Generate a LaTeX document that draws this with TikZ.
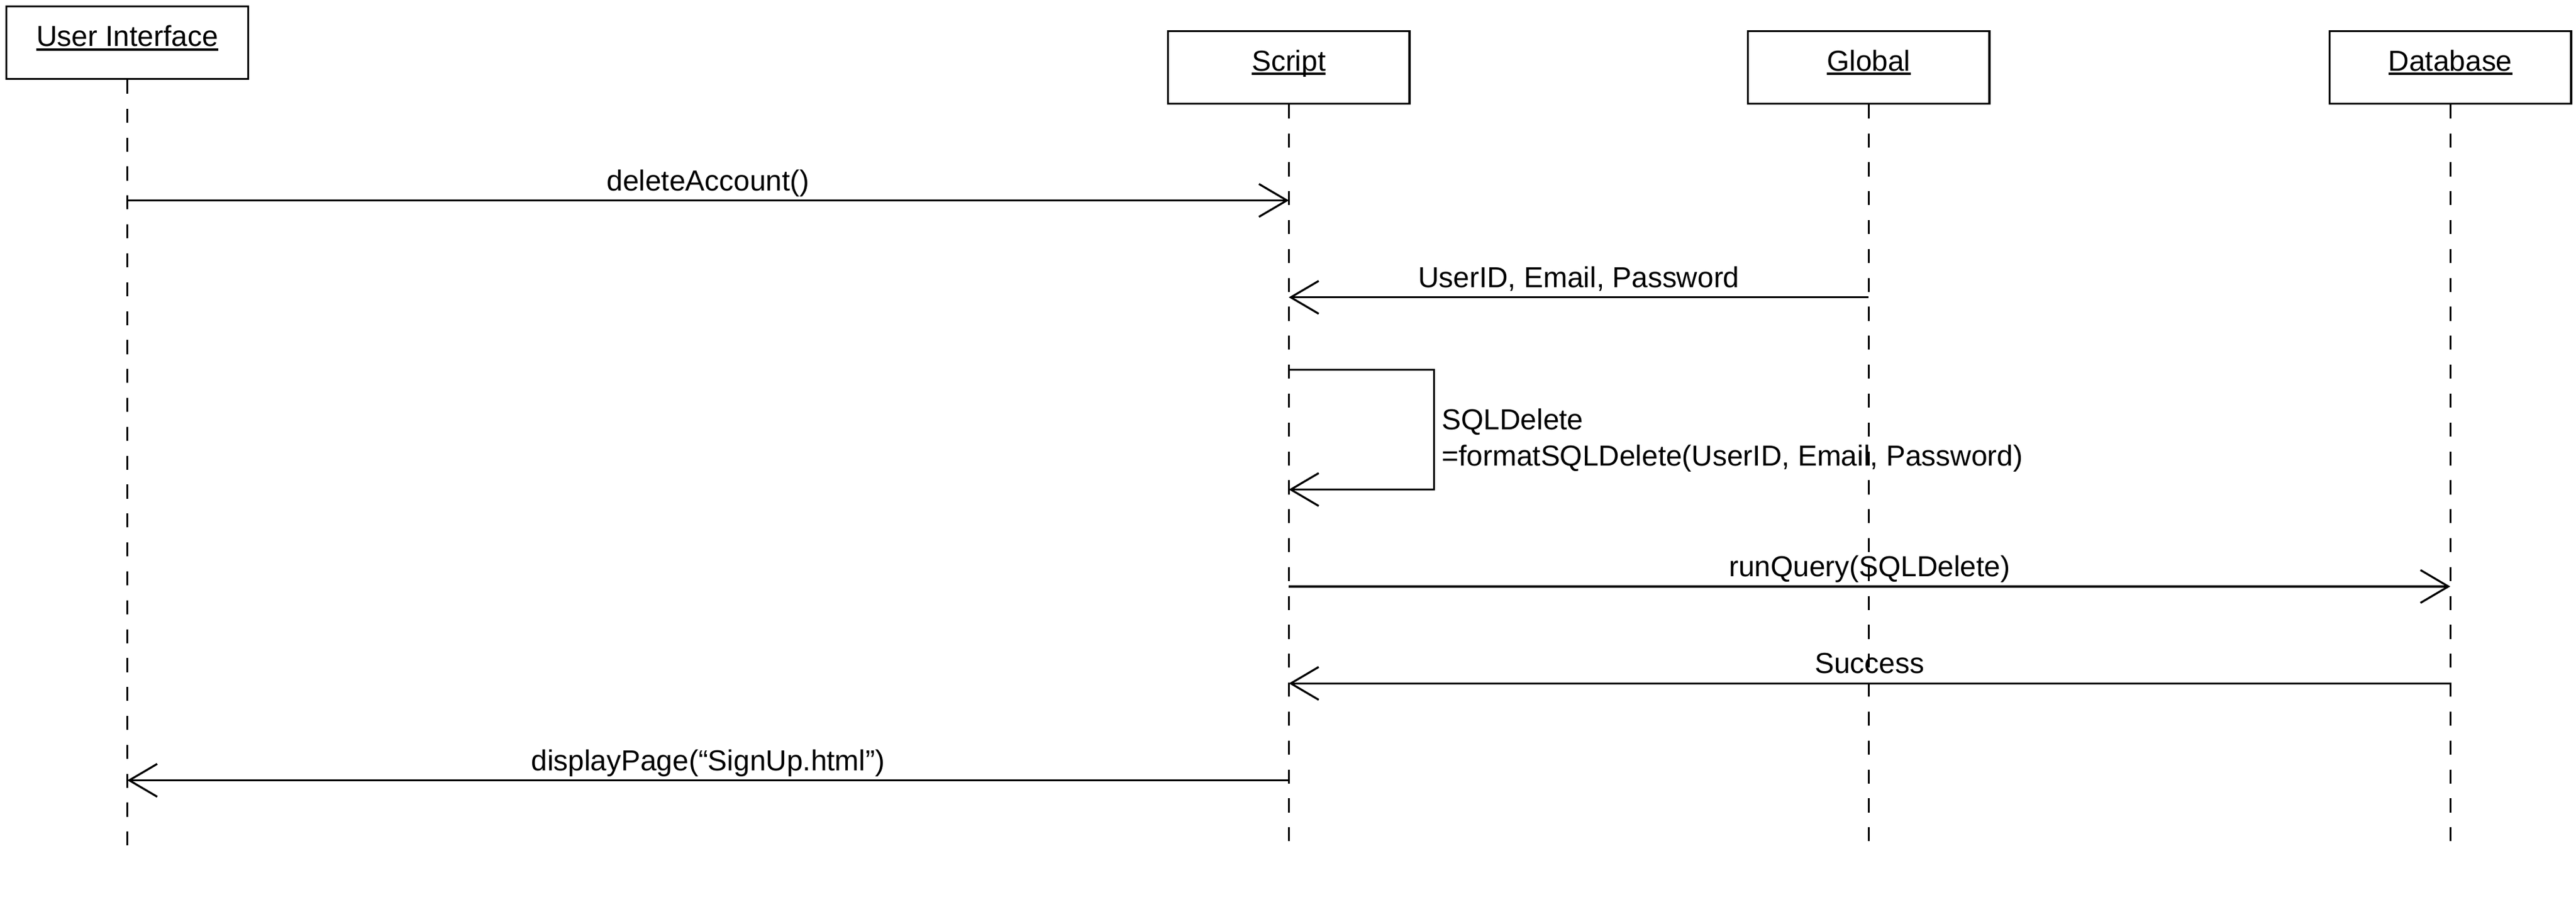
\documentclass[tikz,border=0pt]{standalone}
\usepackage{fontspec}
\setmainfont{Liberation Sans}
\usetikzlibrary{arrows.meta}

\newsavebox\objbox
\newcommand{\objname}[1]{\sbox\objbox{#1}\rlap{\rule[-2pt]{\wd\objbox}{1.1pt}}\usebox\objbox}

\tikzset{
  object/.style={draw, line width=0.9pt, minimum width=110.25pt, minimum height=33pt, inner sep=0pt, text height=7.2pt, text depth=4pt},
  lifeline/.style={line width=0.9pt, dash pattern=on 6.4pt off 6.8pt},
  message/.style={-{Straight Barb[length=12.75pt, width=15pt]}, line width=0.9pt},
  msgtext/.style={midway, anchor=base, yshift=4.5pt, inner sep=0pt}
}

\begin{document}
\begin{tikzpicture}[x=0.75pt, y=-0.75pt, font=\fontsize{13.2}{16.5}\selectfont]

\useasboundingbox (0,0) rectangle (1568,552);

\node[object] (user interface) at (77.5, 26) {\objname{User Interface}};
\node[object] (script) at (784.5, 41) {\objname{Script}};
\node[object] (global) at (1137.5, 41) {\objname{Global}};
\node[object] (database) at (1491.5, 41) {\objname{Database}};

\coordinate (user interface end) at (77.5, 517);
\coordinate (script end) at (784.5, 515);
\coordinate (global end) at (1137.5, 515);
\coordinate (database end) at (1491.5, 515);
\draw[lifeline] (user interface) -- (user interface end);
\draw[lifeline] (script) -- (script end);
\draw[lifeline] (global) -- (global end);
\draw[lifeline] (database) -- (database end);

\coordinate (ui delete) at (77.5, 122);
\coordinate (script delete) at (784.5, 122);
\draw[message] (ui delete) -- node[msgtext] (delete account) {deleteAccount()} (script delete);

\coordinate (global user) at (1137.5, 181);
\coordinate (script user) at (784.5, 181);
\draw[message] (global user) -- node[msgtext] (user data) {UserID, Email, Password} (script user);

\coordinate (script self start) at (784.5, 225);
\coordinate (self top) at (873, 225);
\coordinate (self bottom) at (873, 298);
\coordinate (script self end) at (784.5, 298);
\draw[message] (script self start) -- (self top) -- (self bottom) -- (script self end);
\node[anchor=west, align=left] (sql delete) at (873, 268) {SQLDelete\\=formatSQLDelete(UserID, Email, Password)};

\coordinate (script query) at (784.5, 357);
\coordinate (database query) at (1491.5, 357);
\draw[message] (script query) -- node[msgtext] (run query) {runQuery(SQLDelete)} (database query);

\coordinate (database success) at (1491.5, 416);
\coordinate (script success) at (784.5, 416);
\draw[message] (database success) -- node[msgtext] (success) {Success} (script success);

\coordinate (script display) at (784.5, 475);
\coordinate (ui display) at (77.5, 475);
\draw[message] (script display) -- node[msgtext] (display page) {displayPage(“SignUp.html”)} (ui display);
\end{tikzpicture}
\end{document}
